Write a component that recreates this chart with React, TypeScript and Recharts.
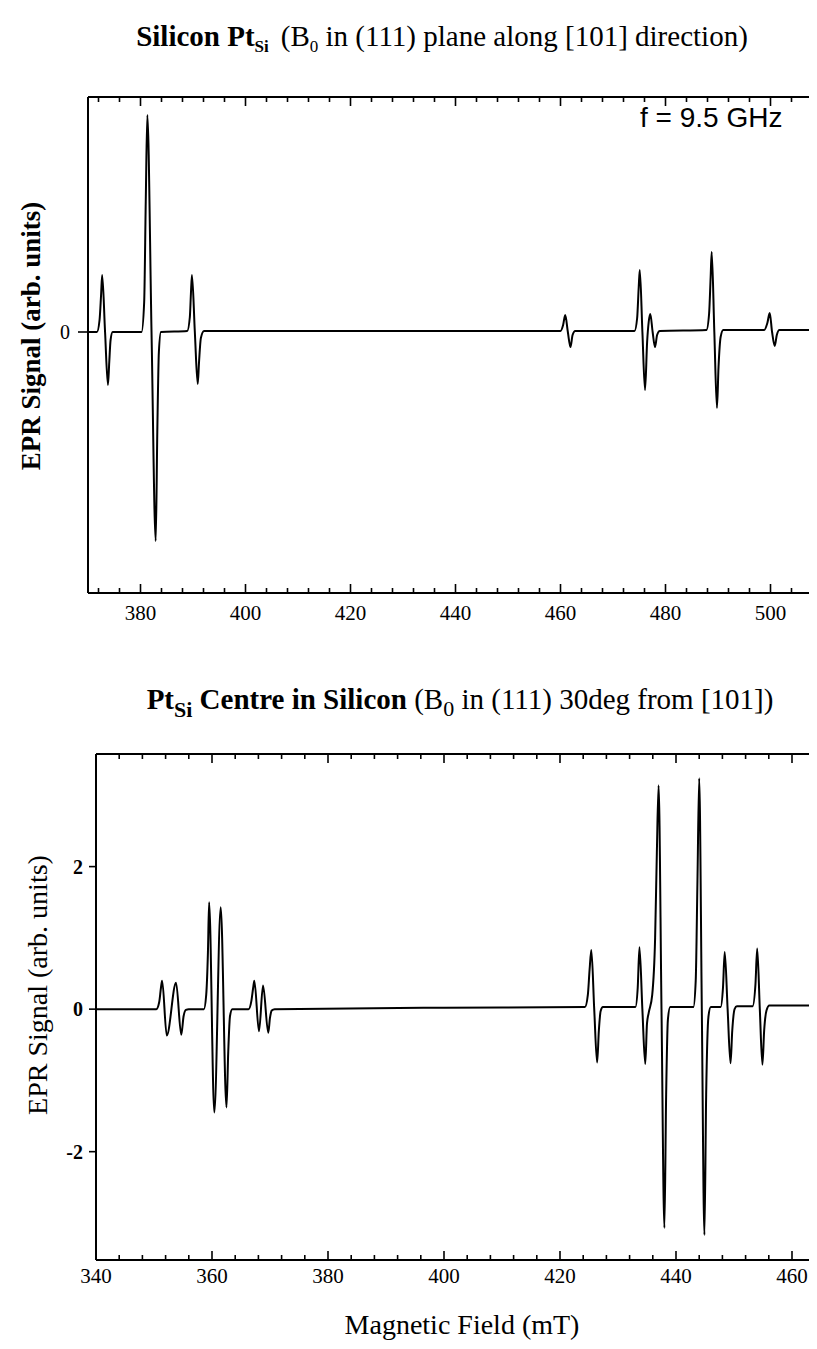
import React from "react";
import { LineChart, Line, XAxis, YAxis } from "recharts";

// ---------- Top panel data (B0 along [101]) ----------
const topField = [
  370, 371.7, 372.2, 372.5, 372.7, 373.25, 373.8, 374.05, 374.3, 374.7,
  380.2, 380.7, 381.0, 381.3, 382.1, 382.9, 383.2, 383.5, 383.9,
  388.9, 389.4, 389.6, 389.8, 390.35, 390.9, 391.15, 391.5, 392.1,
  460.0, 460.5, 460.9, 461.4, 461.9, 462.3, 462.8,
  474.1, 474.6, 474.9, 475.1, 475.6, 476.1, 476.5, 476.8, 477.1, 477.55, 478.0, 478.4, 478.9,
  487.8, 488.3, 488.6, 488.8, 489.3, 489.8, 490.1, 490.5, 491.0,
  498.8, 499.4, 499.85, 500.3, 500.8, 501.2, 501.7, 510,
];
const topSignal = [
  0, 0, 0.12, 0.38, 0.57, 0, -0.53, -0.3, -0.08, 0,
  0, 0.3, 1.3, 2.17, 0, -2.09, -1.0, -0.2, 0,
  0.01, 0.15, 0.38, 0.57, 0, -0.52, -0.3, -0.06, 0.01,
  0.01, 0.07, 0.17, 0, -0.15, -0.03, 0.01,
  0.01, 0.14, 0.45, 0.62, 0, -0.58, -0.1, 0.1, 0.18, 0, -0.15, -0.03, 0.01,
  0.02, 0.18, 0.55, 0.8, 0, -0.76, -0.35, -0.05, 0.02,
  0.02, 0.09, 0.19, 0, -0.14, -0.03, 0.02, 0.02,
];

// ---------- Bottom panel data (30deg from [101]) ----------
const bottomField = [
  340, 350.4, 350.9, 351.2, 351.4, 352.2, 353.8, 354.7, 355.1, 355.5, 356.0,
  358.6, 359.0, 359.3, 359.5, 360.4, 361.5, 362.5, 362.8, 363.1, 363.5,
  366.3, 366.8, 367.1, 367.3, 368.1, 368.8, 369.7, 370.0, 370.3, 370.8,
  400, 424.3, 424.8, 425.1, 425.4, 425.9, 426.4, 426.7, 427.0, 427.4,
  433.0, 433.4, 433.7, 434.2, 434.7, 435.0, 435.3, 435.9, 436.4, 436.7, 437.0, 437.5, 438.0, 438.3, 438.6, 439.0,
  443.0, 443.4, 443.7, 444.0, 444.45, 444.9, 445.2, 445.6, 446.0,
  447.7, 448.1, 448.4, 448.9, 449.4, 449.7, 450.1, 450.5,
  453.2, 453.7, 454.0, 454.45, 454.9, 455.2, 455.6, 456.1, 470,
];
const bottomSignal = [
  0, 0, 0.1, 0.3, 0.4, -0.37, 0.37, -0.36, -0.1, -0.01, 0,
  0, 0.2, 0.8, 1.5, -1.45, 1.43, -1.38, -0.6, -0.1, 0,
  0, 0.12, 0.3, 0.4, -0.31, 0.33, -0.33, -0.12, -0.02, 0,
  0.02, 0.03, 0.2, 0.55, 0.83, 0, -0.75, -0.3, -0.03, 0.03,
  0.03, 0.3, 0.87, 0, -0.77, -0.2, -0.05, 0.2, 1.0, 2.2, 3.14, 0, -3.07, -1.2, -0.15, 0.03,
  0.03, 0.4, 1.8, 3.24, 0, -3.17, -1.2, -0.1, 0.03,
  0.03, 0.3, 0.8, 0, -0.76, -0.3, 0.0, 0.04,
  0.04, 0.35, 0.85, 0, -0.78, -0.3, -0.02, 0.05, 0.05,
];

// ---------- Tick values ----------
const topXTicks = [
  372, 376, 380, 384, 388, 392, 396, 400, 404, 408, 412, 416, 420, 424, 428, 432, 436, 440,
  444, 448, 452, 456, 460, 464, 468, 472, 476, 480, 484, 488, 492, 496, 500, 504, 508,
];
const bottomXTicks = [
  340, 344, 348, 352, 356, 360, 364, 368, 372, 376, 380, 384, 388, 392, 396, 400, 404, 408,
  412, 416, 420, 424, 428, 432, 436, 440, 444, 448, 452, 456, 460, 464, 468,
];
const topYTicks = [0];
const bottomYTicks = [-2, 0, 2];

const topData = topField.map((f, i) => ({ field: f, signal: topSignal[i] }));
const bottomData = bottomField.map((f, i) => ({ field: f, signal: bottomSignal[i] }));

const SERIF = "'Liberation Serif', 'Times New Roman', serif";
const SANS = "'Liberation Sans', Arial, sans-serif";

const makeBottomTick = (fontSize: number, labelDy: number) => (props: any) => {
  const { x, y, payload } = props;
  const v = payload.value;
  const major = v % 20 === 0;
  const len = major ? 9 : 5;
  return (
    <g>
      <line x1={x} x2={x} y1={y} y2={y - len} stroke="#000" strokeWidth={1.6} />
      {major && (
        <text x={x} y={y + labelDy} textAnchor="middle" fontFamily={SERIF} fontSize={fontSize} fill="#000">
          {v}
        </text>
      )}
    </g>
  );
};

const TopTick = (props: any) => {
  const { x, y, payload } = props;
  const major = payload.value % 20 === 0;
  const len = major ? 9 : 5;
  return <line x1={x} x2={x} y1={y} y2={y + len} stroke="#000" strokeWidth={1.6} />;
};

export default function App() {
  return (
    <div style={{ position: "relative", width: 809, height: 1341, overflow: "hidden", background: "#fff" }}>
      {/* Top chart */}
      <div style={{ position: "absolute", left: 0, top: 0 }}>
        <LineChart width={830} height={640} data={topData} margin={{ top: 69, right: 15, bottom: 25, left: 40 }}>
          <XAxis
            xAxisId={0}
            dataKey="field"
            type="number"
            domain={[370, 510]}
            ticks={topXTicks}
            allowDataOverflow
            height={30}
            tickSize={0}
            tickMargin={0}
            tickLine={false}
            axisLine={{ stroke: "#000", strokeWidth: 2 }}
            tick={makeBottomTick(21, 27)}
            interval={0}
          />
          <XAxis
            xAxisId="top"
            orientation="top"
            dataKey="field"
            type="number"
            domain={[370, 510]}
            ticks={topXTicks}
            allowDataOverflow
            height={20}
            tickSize={0}
            tickMargin={0}
            tickLine={false}
            axisLine={{ stroke: "#000", strokeWidth: 2 }}
            tick={TopTick}
            interval={0}
          />
          <YAxis
            type="number"
            domain={[-2.61, 2.35]}
            ticks={topYTicks}
            allowDataOverflow
            width={40}
            tickSize={10}
            tickMargin={8}
            tickLine={{ stroke: "#000", strokeWidth: 1.6 }}
            axisLine={{ stroke: "#000", strokeWidth: 2 }}
            tick={{ fill: "#000", fontFamily: SERIF, fontSize: 20 }}
            interval={0}
          />
          <Line
            type="monotone"
            dataKey="signal"
            stroke="#000"
            strokeWidth={2}
            dot={false}
            isAnimationActive={false}
          />
        </LineChart>
      </div>

      {/* Bottom chart */}
      <div style={{ position: "absolute", left: 0, top: 700 }}>
        <LineChart width={860} height={600} data={bottomData} margin={{ top: 26, right: 18, bottom: 18, left: 48 }}>
          <XAxis
            xAxisId={0}
            dataKey="field"
            type="number"
            domain={[340, 470]}
            ticks={bottomXTicks}
            allowDataOverflow
            height={30}
            tickSize={0}
            tickMargin={0}
            tickLine={false}
            axisLine={{ stroke: "#000", strokeWidth: 2 }}
            tick={makeBottomTick(21, 23)}
            interval={0}
          />
          <XAxis
            xAxisId="top"
            orientation="top"
            dataKey="field"
            type="number"
            domain={[340, 470]}
            ticks={bottomXTicks}
            allowDataOverflow
            height={20}
            tickSize={0}
            tickMargin={0}
            tickLine={false}
            axisLine={{ stroke: "#000", strokeWidth: 2 }}
            tick={TopTick}
            interval={0}
          />
          <YAxis
            type="number"
            domain={[-3.52, 3.58]}
            ticks={bottomYTicks}
            allowDataOverflow
            width={40}
            tickSize={7}
            tickMargin={6}
            tickLine={{ stroke: "#000", strokeWidth: 1.6 }}
            axisLine={{ stroke: "#000", strokeWidth: 2 }}
            tick={{ fill: "#000", fontFamily: SERIF, fontSize: 20, fontWeight: "bold" }}
            interval={0}
          />
          <Line
            type="monotone"
            dataKey="signal"
            stroke="#000"
            strokeWidth={2}
            dot={false}
            isAnimationActive={false}
          />
        </LineChart>
      </div>

      {/* Text overlay */}
      <svg width={809} height={1341} style={{ position: "absolute", left: 0, top: 0, pointerEvents: "none" }}>
        <text x={434} y={38} textAnchor="middle" fontFamily={SERIF} fontSize={29} fill="#000">
          <tspan fontWeight="bold">Silicon Pt</tspan>
          <tspan fontWeight="bold" fontSize={17} dy={6}>Si</tspan>
          <tspan dy={-6} dx={12}>(B</tspan>
          <tspan fontSize={17} dy={6}>0</tspan>
          <tspan dy={-6}> in (111) plane along [101] direction)</tspan>
        </text>
        <text x={632} y={119} fontFamily={SANS} fontSize={28} fill="#000">f = 9.5 GHz</text>
        <text
          transform="translate(32,328) rotate(-90)"
          textAnchor="middle"
          fontFamily={SERIF}
          fontSize={27}
          fontWeight="bold"
          fill="#000"
        >
          EPR Signal (arb. units)
        </text>

        <text x={452} y={701} textAnchor="middle" fontFamily={SERIF} fontSize={29} fill="#000">
          <tspan fontWeight="bold">Pt</tspan>
          <tspan fontWeight="bold" fontSize={22} dy={8}>Si</tspan>
          <tspan fontWeight="bold" dy={-8}> Centre in Silicon</tspan>
          <tspan> (B</tspan>
          <tspan fontSize={22} dy={7}>0</tspan>
          <tspan dy={-7}> in (111) 30deg from [101])</tspan>
        </text>
        <text
          transform="translate(39,977) rotate(-90)"
          textAnchor="middle"
          fontFamily={SERIF}
          fontSize={28}
          fill="#000"
        >
          EPR Signal (arb. units)
        </text>
        <text x={454} y={1326} textAnchor="middle" fontFamily={SERIF} fontSize={28} fill="#000">
          Magnetic Field (mT)
        </text>
      </svg>
    </div>
  );
}
